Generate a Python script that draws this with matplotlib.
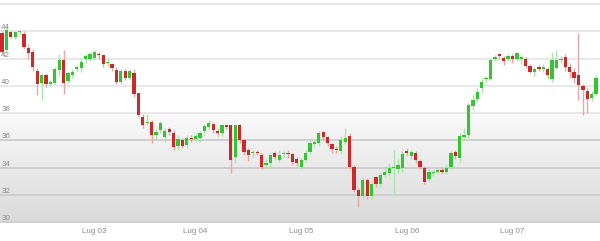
import numpy as np
import matplotlib
matplotlib.use("Agg")
import matplotlib.pyplot as plt

# ---- data (hourly candles) ----
opens = [43.85, 42.6, 43.95, 43.55, 43.93, 43.83, 42.8, 42.48, 41.1, 40.17,
         40.78, 40.1, 40.17, 41.14, 41.87, 40.34, 40.8, 41.2, 41.27, 41.93,
         42.0, 42.07, 42.3, 42.25, 41.65, 41.56, 41.19, 40.29, 41.07, 40.6,
         40.97, 39.44, 37.68, 37.24, 37.35, 36.38, 36.75, 36.25, 36.8, 36.5,
         35.57, 36.0, 35.65, 36.2, 36.1, 36.14, 36.65, 37.0, 37.2, 36.7,
         36.5, 37.1, 37.1, 34.8, 37.1, 36.0, 35.28, 35.04, 35.15, 34.92,
         34.2, 34.3, 35.04, 34.55, 35.0, 35.1, 34.97, 34.6, 34.06, 34.55,
         35.16, 35.7, 35.77, 36.58, 36.21, 35.72, 35.35, 35.23, 35.9, 36.3,
         34.06, 32.35, 31.9, 33.1, 31.9, 33.28, 32.8, 33.45, 33.62, 33.97,
         33.87, 33.94, 35.23, 34.84, 35.04, 34.48, 34.0, 33.13, 33.58, 33.7,
         33.82, 33.7, 34.06, 35.11, 34.7, 36.26, 36.38, 38.5, 39.0, 39.8,
         40.46, 40.53, 41.93, 42.3, 42.0, 42.0, 42.17, 41.93, 42.0, 41.93,
         41.44, 41.02, 41.35, 41.22, 41.26, 40.46, 41.3, 41.9, 42.12, 41.38,
         41.0, 40.78, 39.97, 39.63, 39.07, 39.38]
closes = [42.5, 44.07, 43.6, 43.95, 43.97, 42.85, 42.37, 41.38, 40.1, 40.78,
          40.1, 40.3, 41.2, 41.87, 40.17, 40.95, 41.0, 41.4, 41.75, 42.17,
          42.3, 42.45, 42.25, 41.6, 41.7, 41.31, 40.29, 41.07, 40.6, 41.07,
          39.38, 37.85, 37.1, 37.36, 36.38, 36.62, 37.24, 36.7, 36.62, 35.52,
          36.1, 35.57, 36.2, 36.1, 36.3, 36.5, 37.05, 37.3, 36.74, 36.5,
          37.1, 37.0, 34.55, 37.1, 36.0, 35.16, 34.9, 35.16, 35.05, 34.06,
          34.3, 34.92, 34.8, 34.92, 35.05, 35.0, 34.42, 34.35, 34.55, 35.04,
          35.77, 35.9, 36.55, 36.21, 35.77, 35.33, 35.3, 36.0, 36.2, 34.06,
          32.35, 31.9, 33.1, 31.9, 32.8, 32.8, 33.45, 33.7, 33.94, 34.02,
          34.18, 34.99, 35.04, 35.11, 34.55, 34.06, 32.96, 33.7, 33.7, 33.77,
          33.7, 34.0, 35.04, 34.84, 36.3, 36.4, 38.58, 38.94, 39.55, 40.3,
          40.6, 41.87, 42.12, 42.19, 41.8, 42.17, 42.0, 42.4, 42.05, 41.44,
          41.02, 41.26, 41.26, 41.39, 40.78, 41.87, 41.87, 42.0, 41.38, 41.0,
          40.6, 40.04, 39.68, 39.0, 39.38, 40.6]
highs = [44.0, 44.3, 44.0, 44.0, 44.05, 44.0, 43.1, 42.7, 41.3, 40.85,
         40.9, 40.4, 41.35, 42.3, 42.6, 41.1, 41.2, 41.55, 42.0, 42.35,
         42.45, 42.6, 42.5, 42.35, 41.95, 41.7, 41.35, 41.2, 41.2, 41.2,
         41.2, 39.5, 37.9, 37.9, 37.5, 36.8, 37.4, 36.9, 37.0, 36.75,
         36.4, 36.2, 36.4, 36.35, 36.5, 36.7, 37.2, 37.45, 37.3, 36.9,
         37.2, 37.15, 37.15, 37.15, 37.2, 36.1, 35.4, 35.3, 35.3, 35.1,
         34.6, 35.1, 35.2, 35.3, 35.2, 35.3, 35.1, 34.8, 34.7, 35.3,
         36.0, 36.1, 36.65, 36.7, 36.3, 35.8, 35.6, 36.3, 36.9, 36.5,
         34.2, 32.5, 33.3, 33.2, 33.0, 33.4, 33.6, 34.1, 34.3, 35.3,
         34.6, 35.2, 35.4, 35.3, 35.2, 34.6, 34.1, 33.9, 33.85, 33.9,
         33.95, 34.2, 35.2, 35.3, 36.5, 36.9, 38.7, 39.3, 39.8, 40.6,
         40.75, 42.0, 42.25, 42.4, 42.2, 42.3, 42.3, 42.5, 42.2, 42.1,
         41.6, 41.4, 41.5, 41.6, 41.4, 42.5, 42.66, 42.2, 42.3, 41.7,
         41.3, 43.88, 40.1, 39.8, 39.6, 40.8]
lows = [42.3, 42.5, 43.5, 43.4, 43.7, 42.7, 42.0, 41.1, 39.3, 38.95,
        39.9, 40.0, 40.1, 40.7, 39.4, 40.2, 40.6, 41.0, 41.0, 41.7,
        41.85, 41.9, 42.0, 41.4, 41.4, 41.1, 40.1, 40.1, 40.4, 40.4,
        39.2, 37.7, 36.9, 37.1, 35.8, 36.1, 36.5, 35.9, 36.4, 35.3,
        35.3, 35.4, 35.4, 35.9, 35.95, 35.9, 36.4, 36.8, 36.5, 36.3,
        36.3, 36.85, 33.6, 34.3, 35.8, 34.9, 34.5, 34.8, 34.9, 33.9,
        34.0, 34.0, 34.6, 34.4, 34.8, 34.7, 34.2, 34.1, 33.9, 34.4,
        35.0, 35.5, 35.6, 36.0, 35.6, 35.1, 35.1, 35.0, 35.7, 33.9,
        32.2, 31.1, 31.7, 31.7, 31.7, 32.6, 32.6, 33.3, 33.4, 32.1,
        33.6, 33.7, 34.9, 34.6, 34.3, 33.9, 32.8, 33.0, 33.4, 33.55,
        33.5, 33.5, 33.9, 34.6, 34.4, 36.0, 36.2, 38.2, 38.8, 39.5,
        40.3, 40.4, 41.8, 42.0, 41.5, 41.8, 41.7, 41.8, 41.6, 41.3,
        40.9, 40.7, 41.1, 41.0, 40.6, 40.3, 41.2, 41.7, 41.1, 40.6,
        40.2, 38.95, 37.85, 38.0, 38.9, 39.3]
tick_pos = [21, 44, 68, 92, 116]
tick_labels = ["Lug 03", "Lug 04", "Lug 05", "Lug 06", "Lug 07"]
y_labels = [30, 32, 34, 36, 38, 40, 42, 44]

# ---- figure ----
W, H = 600, 241
fig = plt.figure(figsize=(W / 100, H / 100), dpi=100)
fig.patch.set_facecolor("white")
ax = fig.add_axes([0, (H - 222) / H, 1, (222 - 4) / H])
ax.set_facecolor("white")
for s in ax.spines.values():
    s.set_visible(False)

n = len(opens)
xmin, xmax = -0.4545, 135.9
ax.set_xlim(xmin, xmax)
ax.set_ylim(30, 46)

# gradient background in lower band
grad = np.linspace(0.978, 0.855, 200)
img = np.dstack([grad, grad, grad]).reshape(200, 1, 3)
ax.imshow(img, extent=[xmin, xmax, 30, 38], aspect="auto", zorder=0,
          interpolation="bilinear")

# grid lines
for v in range(30, 47, 2):
    col = "#e8e8e8" if v >= 38 else "#cfcfcf"
    ax.axhline(v, color=col, lw=1.4, zorder=1, clip_on=False)

# candles
x = np.arange(n)
o = np.array(opens); c = np.array(closes)
hi = np.array(highs); lo = np.array(lows)
up = c >= o
body_green = "#33c633"
body_red = "#cc2a2a"
wick_green = "#a6e6a6"
wick_red = "#eaa5a5"
ax.vlines(x[up], lo[up], hi[up], color=wick_green, lw=1, zorder=2)
ax.vlines(x[~up], lo[~up], hi[~up], color=wick_red, lw=1, zorder=2)
bottom = np.minimum(o, c)
height = np.maximum(np.abs(c - o), 0.09)
ax.bar(x[up], height[up], bottom=bottom[up], width=0.76, color=body_green,
       zorder=3, linewidth=0)
ax.bar(x[~up], height[~up], bottom=bottom[~up], width=0.76, color=body_red,
       zorder=3, linewidth=0)

# y labels
for v in y_labels:
    ax.text(0.002, v + 0.14, str(v), transform=ax.get_yaxis_transform(),
            fontsize=5.8, color="#8c8c8c", family="Liberation Sans",
            ha="left", va="baseline", zorder=4)
ax.set_yticks([])

ax.set_xticks(tick_pos)
ax.set_xticklabels(tick_labels, fontsize=5.8, color="#8c8c8c",
                   family="Liberation Sans")
ax.tick_params(axis="x", length=0, pad=4)

fig.savefig("out.png", dpi=100, facecolor="white")
